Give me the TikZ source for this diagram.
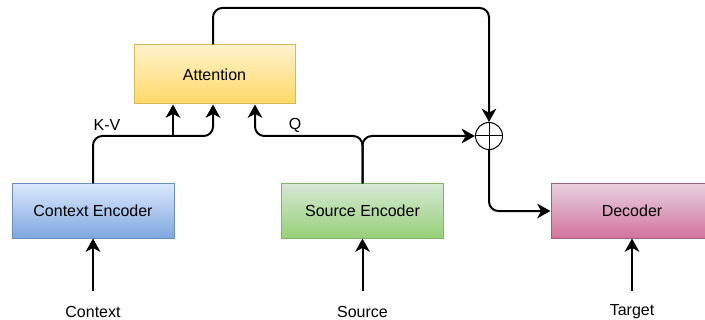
\documentclass[tikz,border=0pt]{standalone}
\usepackage{fontspec}
\setmainfont{Liberation Sans}
\usetikzlibrary{calc}
\usetikzlibrary{math}
\usetikzlibrary{arrows.meta}
\definecolor{AttnTop}{HTML}{FFF2CC}
\definecolor{AttnBottom}{HTML}{FFD966}
\definecolor{AttnLine}{HTML}{D6B656}
\definecolor{CtxTop}{HTML}{DAE8FC}
\definecolor{CtxBottom}{HTML}{7EA6E0}
\definecolor{CtxLine}{HTML}{6C8EBF}
\definecolor{SrcTop}{HTML}{D5E8D4}
\definecolor{SrcBottom}{HTML}{97D077}
\definecolor{SrcLine}{HTML}{82B366}
\definecolor{DecTop}{HTML}{E6D0DE}
\definecolor{DecBottom}{HTML}{D5739D}
\definecolor{DecLine}{HTML}{996185}

\begin{document}
\begin{tikzpicture}[x=0.75pt, y=-0.75pt,
    every node/.style={font=\fontsize{12}{14}\selectfont},
    block/.style={rectangle, draw, line width=0.75pt, inner sep=0pt,
        minimum width=121.5pt, minimum height=40.5pt},
    flow/.style={line width=1.5pt, -{Stealth[length=10pt, width=11pt, inset=3pt]}},
    ]

    \tikzmath {
        \encY = 211;
        \inY = 291;
        \lblY = 312;
        \joinY = 136;
        \topY = 8;
    }

    \useasboundingbox (0,0) rectangle (705,320);

    % boxes
    \node[block, minimum width=120.75pt, minimum height=44.25pt,
        draw=AttnLine, top color=AttnTop, bottom color=AttnBottom] (attn) at (214.5,74.5) {Attention};
    \node[block, draw=CtxLine, top color=CtxTop, bottom color=CtxBottom] (ctx_enc) at (93,\encY) {Context Encoder};
    \node[block, draw=SrcLine, top color=SrcTop, bottom color=SrcBottom] (src_enc) at (362.5,\encY) {Source Encoder};
    \node[block, draw=DecLine, top color=DecTop, bottom color=DecBottom] (dec) at (632,\encY) {Decoder};

    \node[circle, draw, line width=0.75pt, minimum size=20.25pt, inner sep=0pt] (plus) at (489,\joinY) {};
    \draw[line width=0.75pt] (plus.north) -- (plus.south);
    \draw[line width=0.75pt] (plus.west) -- (plus.east);

    % inputs
    \node (ctx_lbl) at (93,\lblY) {Context};
    \node (src_lbl) at (362.5,\lblY) {Source};
    \node (tgt_lbl) at (632,\lblY) {Target};

    \coordinate (ctx_in) at (93,\inY);
    \coordinate (src_in) at (362.5,\inY);
    \coordinate (tgt_in) at (632,\inY);

    \draw[flow] (ctx_in) -- (ctx_enc.south);
    \draw[flow] (src_in) -- (src_enc.south);
    \draw[flow] (tgt_in) -- (dec.south);

    % key-value and query
    \coordinate (kv_mid) at (173,\joinY);
    \coordinate (kv_join) at (213,\joinY);
    \coordinate (q_join) at (255,\joinY);
    \coordinate (top_turn) at (489,\topY);

    \draw[flow, rounded corners=7pt] (ctx_enc.north) |- (kv_join) -- (kv_join |- attn.south);
    \draw[flow] (kv_mid) -- (kv_mid |- attn.south);
    \draw[flow, rounded corners=7pt] (src_enc.north) |- (q_join) -- (q_join |- attn.south);
    \draw[flow, rounded corners=7pt] (src_enc.north) |- (plus.west);

    \draw[flow, rounded corners=7pt] (kv_join |- attn.north) |- (top_turn) -- (plus.north);
    \draw[flow, rounded corners=7pt] (plus.south) |- (dec.west);

    \node (kv_lbl) at (107,125) {K-V};
    \node (q_lbl) at (295,125) {Q};

\end{tikzpicture}
\end{document}
